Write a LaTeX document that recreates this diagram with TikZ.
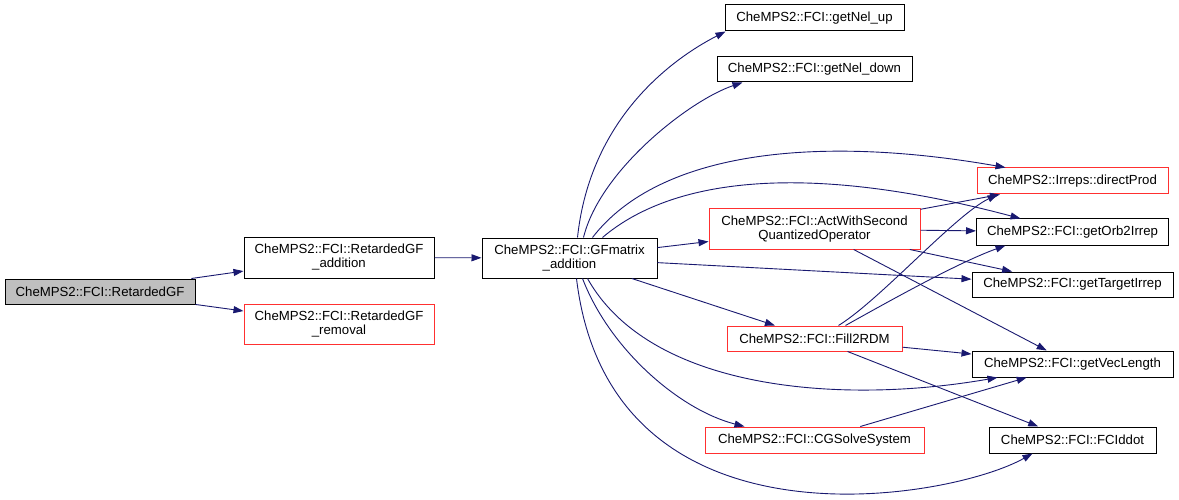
\documentclass[tikz,border=0pt]{standalone}
\usepackage{fontspec}
\setmainfont{Liberation Sans}
\usetikzlibrary{arrows.meta}
\definecolor{edgeblue}{HTML}{191970}
\definecolor{boxgray}{HTML}{BFBFBF}
\definecolor{boxred}{HTML}{FF3030}
\begin{document}
\begin{tikzpicture}[x=1pt,y=-1pt,
  fn/.style={draw=black,line width=1pt,inner sep=0pt,align=center,
    font=\fontsize{13.2}{14}\selectfont},
  fnred/.style={fn,draw=boxred},
  fncur/.style={fn,fill=boxgray},
  call/.style={draw=edgeblue,line width=0.9pt,-{Triangle[length=10pt,width=7pt]}}]
\useasboundingbox (0,0) rectangle (1179,500);
\fill[white] (0,0) rectangle (1179,500);
% nodes
\node[fncur,minimum width=190,minimum height=25] (rgf) at (100,291.5) {CheMPS2::FCI::RetardedGF};
\node[fn,minimum width=190,minimum height=41] (rgfa) at (339,257.5) {CheMPS2::FCI::RetardedGF\\\_addition};
\node[fnred,minimum width=190,minimum height=40] (rgfr) at (339,324) {CheMPS2::FCI::RetardedGF\\\_removal};
\node[fn,minimum width=175,minimum height=40] (gfm) at (569.5,258) {CheMPS2::FCI::GFmatrix\\\_addition};
\node[fn,minimum width=179,minimum height=26] (nelup) at (814.5,18) {CheMPS2::FCI::getNel\_up};
\node[fn,minimum width=195,minimum height=25] (neldn) at (814.5,69.5) {CheMPS2::FCI::getNel\_down};
\node[fnred,minimum width=211,minimum height=40] (act) at (814.5,229) {CheMPS2::FCI::ActWithSecond\\QuantizedOperator};
\node[fnred,minimum width=175,minimum height=25] (fill) at (814.5,338.5) {CheMPS2::FCI::Fill2RDM};
\node[fnred,minimum width=219,minimum height=26] (cgs) at (814.5,440) {CheMPS2::FCI::CGSolveSystem};
\node[fnred,minimum width=191,minimum height=26] (dp) at (1072.5,181) {CheMPS2::Irreps::directProd};
\node[fn,minimum width=192,minimum height=26] (orb) at (1072.5,232) {CheMPS2::FCI::getOrb2Irrep};
\node[fn,minimum width=201,minimum height=25] (tgt) at (1072.5,284.5) {CheMPS2::FCI::getTargetIrrep};
\node[fn,minimum width=201,minimum height=26] (vec) at (1072.5,364) {CheMPS2::FCI::getVecLength};
\node[fn,minimum width=167,minimum height=26] (fci) at (1072.5,440) {CheMPS2::FCI::FCIddot};
% edges
\draw[call] (rgf) -- (rgfa);
\draw[call] (rgf) -- (rgfr);
\draw[call] (rgfa) -- (gfm);
\draw[call] ([xshift=8]gfm.north) .. controls (590,120) and (670,60) .. ([xshift=-89]nelup.south);
\draw[call] ([xshift=14]gfm.north) .. controls (600,170) and (690,100) .. ([xshift=-72]neldn.south);
\draw[call] ([xshift=23]gfm.north) .. controls (660,150) and (820,135) .. ([xshift=-67]dp.north);
\draw[call] ([xshift=33]gfm.north) .. controls (670,180) and (800,160) .. ([xshift=-52]orb.north);
\draw[call] (gfm) -- (act);
\draw[call] (gfm) -- (tgt);
\draw[call] (gfm) -- (fill);
\draw[call] ([xshift=18]gfm.south) .. controls (650,390) and (840,405) .. ([xshift=-75]vec.south);
\draw[call] ([xshift=13]gfm.south) .. controls (610,350) and (680,410) .. ([xshift=-70]cgs.north);
\draw[call] ([xshift=7]gfm.south) .. controls (610,560) and (950,500) .. ([xshift=-40]fci.south);
\draw[call] (act) -- (dp);
\draw[call] (act) -- (orb);
\draw[call] (act) -- (tgt);
\draw[call] (act) -- (vec);
\draw[call] ([xshift=24]fill.north) .. controls (880,300) and (955,215) .. ([xshift=-75]dp.south);
\draw[call] ([xshift=31]fill.north) .. controls (900,295) and (960,262) .. ([xshift=-67]orb.south);
\draw[call] (fill) -- (vec);
\draw[call] (fill) -- (fci);
\draw[call] (cgs) -- (vec);
\end{tikzpicture}
\end{document}
